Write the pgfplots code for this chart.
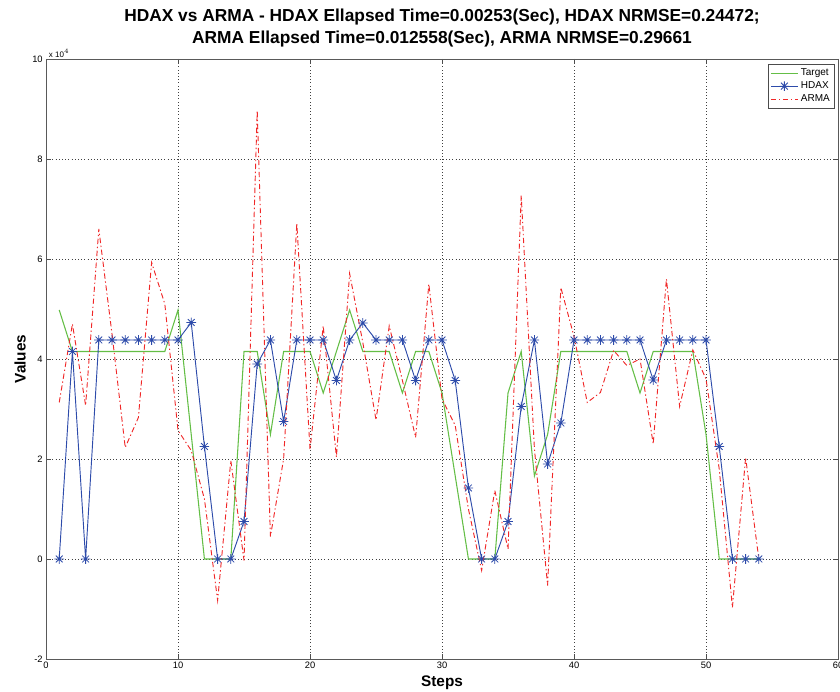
\documentclass[border=0pt]{standalone}
\usepackage{pgfplots}
\pgfplotsset{compat=1.18}
\usepackage{fontspec}
\setmainfont{Liberation Sans}
\definecolor{tgreen}{RGB}{100,190,70}
\definecolor{hblue}{RGB}{45,75,170}
\definecolor{ared}{RGB}{240,40,40}
\pgfdeclareplotmark{mstar}{%
  \pgfpathmoveto{\pgfqpoint{-\pgfplotmarksize}{0pt}}\pgfpathlineto{\pgfqpoint{\pgfplotmarksize}{0pt}}%
  \pgfpathmoveto{\pgfqpoint{0pt}{-\pgfplotmarksize}}\pgfpathlineto{\pgfqpoint{0pt}{\pgfplotmarksize}}%
  \pgfpathmoveto{\pgfqpoint{-0.707\pgfplotmarksize}{-0.707\pgfplotmarksize}}\pgfpathlineto{\pgfqpoint{0.707\pgfplotmarksize}{0.707\pgfplotmarksize}}%
  \pgfpathmoveto{\pgfqpoint{-0.707\pgfplotmarksize}{0.707\pgfplotmarksize}}\pgfpathlineto{\pgfqpoint{0.707\pgfplotmarksize}{-0.707\pgfplotmarksize}}%
  \pgfusepathqstroke}
\pgfplotstableread{
x target hdax arma
1 4.98 0 3.13
2 4.15 4.15 4.70
3 4.15 0 3.07
4 4.15 4.38 6.60
5 4.15 4.38 4.50
6 4.15 4.38 2.23
7 4.15 4.38 2.83
8 4.15 4.38 5.93
9 4.15 4.38 5.10
10 4.98 4.38 2.57
11 2.49 4.73 2.17
12 0 2.25 1.20
13 0 0 -0.83
14 0 0 1.97
15 4.15 0.75 -0.03
16 4.15 3.90 8.97
17 2.49 4.38 0.45
18 4.15 2.75 2.00
19 4.15 4.38 6.71
20 4.15 4.38 2.19
21 3.32 4.38 4.66
22 4.15 3.57 2.04
23 4.98 4.38 5.71
24 4.15 4.72 4.33
25 4.15 4.38 2.78
26 4.15 4.38 4.66
27 3.32 4.38 3.57
28 4.15 3.57 2.43
29 4.15 4.38 5.50
30 3.32 4.38 3.20
31 1.66 3.57 2.67
32 0 1.42 1.00
33 0 0 -0.23
34 0 0 1.37
35 3.32 0.75 0.20
36 4.15 3.05 7.27
37 1.66 4.38 2.20
38 2.49 1.90 -0.53
39 4.15 2.72 5.43
40 4.15 4.38 4.45
41 4.15 4.38 3.13
42 4.15 4.38 3.33
43 4.15 4.38 4.17
44 4.15 4.38 3.87
45 3.32 4.38 4.00
46 4.15 3.58 2.30
47 4.15 4.38 5.60
48 4.15 4.38 3.05
49 4.15 4.38 4.18
50 2.49 4.38 3.60
51 0 2.25 1.80
52 0 0 -0.97
53 0 0 2.03
54 0 0 0
}\datatable
\begin{document}
\begin{tikzpicture}
\begin{axis}[
  scale only axis, width=594pt, height=450pt,
  xmin=0, xmax=60, ymin=-2, ymax=10,
  xtick={0,10,...,60}, ytick={-2,0,...,10},
  tick align=inside, major tick length=4pt,
  xtick pos=both, ytick pos=both,
  grid=major, major grid style={black!75, dotted, line width=0.45pt},
  axis line style={black!65, line width=0.7pt},
  tick style={black!70, line width=0.6pt},
  /pgf/number format/assume math mode=true,
  ticklabel style={font=\fontsize{7}{8}\selectfont},
  xticklabel style={yshift=1pt},
  yticklabel style={xshift=1pt},
  xlabel={Steps}, ylabel={Values},
  label style={font=\fontsize{11.5}{13}\selectfont\bfseries},
  xlabel style={yshift=2pt},
  ylabel style={yshift=-2pt},
  title={HDAX vs ARMA - HDAX Ellapsed Time=0.00253(Sec), HDAX NRMSE=0.24472;\\ARMA Ellapsed Time=0.012558(Sec), ARMA NRMSE=0.29661},
  title style={align=center, font=\fontsize{13}{17}\selectfont\bfseries, yshift=-1pt},
  legend cell align=left,
  legend style={at={(rel axis cs:0.996,0.992)}, anchor=north east, font=\fontsize{7.5}{9}\selectfont,
    draw=black!70, line width=0.6pt, inner sep=1.5pt, row sep=-1pt},
  legend image code/.code={\draw[mark repeat=2,mark phase=2,#1] plot coordinates {(0pt,0pt) (10pt,0pt) (20pt,0pt)};},
]
\addplot[tgreen, line width=0.8pt] table[x=x,y=target]{\datatable};
\addlegendentry{Target}
\addplot[hblue, line width=0.7pt, mark=mstar, mark size=3.6pt, mark options={solid, line width=0.6pt}] table[x=x,y=hdax]{\datatable};
\addlegendentry{HDAX}
\addplot[ared, line width=0.7pt, dash pattern=on 4pt off 2pt on 1pt off 2pt] table[x=x,y=arma]{\datatable};
\addlegendentry{ARMA}
\coordinate (tl) at (rel axis cs:0,1);
\coordinate (bl) at (rel axis cs:-0.0581,-0.055);
\coordinate (tr) at (rel axis cs:1.0025,1.0983);
\end{axis}
\node[anchor=south west, font=\fontsize{6}{7}\selectfont, inner sep=1pt, xshift=1pt] at (tl) {x 10$^{4}$};
\pgfresetboundingbox
\path[use as bounding box] (bl) rectangle (tr);
\end{tikzpicture}
\end{document}
